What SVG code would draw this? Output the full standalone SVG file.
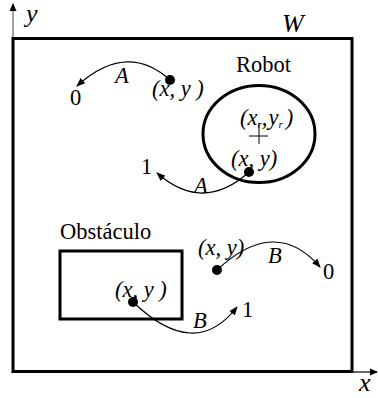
<svg xmlns="http://www.w3.org/2000/svg" width="378" height="398" viewBox="0 0 378 398">
<defs>
<marker id="ah" markerWidth="9" markerHeight="7" refX="8" refY="3.5" orient="auto" markerUnits="userSpaceOnUse">
<path d="M0,0 L9,3.5 L0,7 Z" fill="#000"/>
</marker>
<marker id="axh" markerWidth="8" markerHeight="8" refX="7" refY="4" orient="auto" markerUnits="userSpaceOnUse">
<path d="M0,0.5 L8,4 L0,7.5 Z" fill="#000"/>
</marker>
</defs>
<style>
text{font-family:"Liberation Serif","Times New Roman",serif;fill:#000}
.it{font-style:italic}
.lb{font-size:22.5px}
.ax{font-size:26px;font-style:italic}
.thick{fill:none;stroke:#000;stroke-width:3}
.arc{fill:none;stroke:#000;stroke-width:1.2}
.dot{fill:#000}
</style>
<rect width="378" height="398" fill="#fff"/>
<g id="axes">
<line x1="13" y1="38" x2="13" y2="4" stroke="#666" stroke-width="1.2" marker-end="url(#axh)"/>
<line x1="352" y1="372" x2="377" y2="372" stroke="#000" stroke-width="1.2" marker-end="url(#axh)"/>
<text class="ax" x="26" y="22">y</text>
<text class="ax" x="359" y="391">x</text>
</g>
<g id="world">
<rect class="thick" x="13" y="38.5" width="339" height="333"/>
<text class="ax" x="282" y="32">W</text>
</g>
<g id="robot">
<ellipse class="thick" cx="259" cy="134" rx="56" ry="48.5"/>
<text class="lb" x="236" y="72">Robot</text>
<line x1="249" y1="136" x2="268" y2="136" stroke="#000" stroke-width="1"/>
<line x1="259" y1="123" x2="259" y2="144" stroke="#000" stroke-width="1"/>
<text class="lb it" x="240" y="125">(x<tspan font-size="11" dy="3">r</tspan><tspan dy="-3">,</tspan><tspan dx="1">y</tspan><tspan font-size="11" dy="3">r</tspan><tspan dy="-3" dx="3">)</tspan></text>
<circle class="dot" cx="249" cy="172" r="5"/>
<text class="lb it" x="231" y="166">(x, y)</text>
</g>
<g id="pointA0">
<circle class="dot" cx="170" cy="80" r="5"/>
<text class="lb it" x="152" y="96">(x, y )</text>
<text class="lb" x="70" y="105">0</text>
<text class="lb it" x="115" y="83">A</text>
</g>
<g id="pointA1">
<text class="lb" x="141" y="174">1</text>
<text class="lb it" x="194" y="193">A</text>
</g>
<g id="obstacle">
<rect class="thick" x="60" y="251" width="122" height="68"/>
<text class="lb" x="60" y="239">Obstáculo</text>
<circle class="dot" cx="133" cy="302" r="5"/>
<text class="lb it" x="115" y="297">(x, y )</text>
<text class="lb it" x="193" y="328">B</text>
<text class="lb" x="242" y="317">1</text>
</g>
<g id="pointB0">
<circle class="dot" cx="217" cy="270" r="5"/>
<text class="lb it" x="198" y="255">(x, y)</text>
<text class="lb it" x="268" y="263">B</text>
<text class="lb" x="323" y="279">0</text>
</g>
<g id="connectors">
<path class="arc" d="M170,80 Q126.5,41 77,86" marker-end="url(#ah)"/>
<path class="arc" d="M249,172 Q203,213.5 157,173" marker-end="url(#ah)"/>
<path class="arc" d="M133,302 Q195,361.5 237,307" marker-end="url(#ah)"/>
<path class="arc" d="M217,270 Q275.5,215.5 320,267" marker-end="url(#ah)"/>
</g>
</svg>
